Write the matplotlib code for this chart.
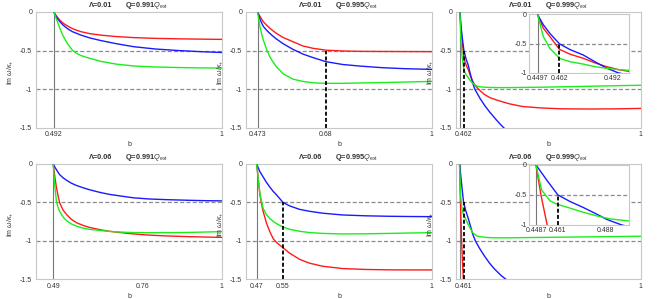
import matplotlib
matplotlib.use("Agg")
import matplotlib.pyplot as plt

plt.rcParams['font.family'] = ['Liberation Sans', 'DejaVu Sans']
plt.rcParams['mathtext.fontset'] = 'custom'
plt.rcParams['mathtext.rm'] = 'Liberation Sans'
plt.rcParams['mathtext.it'] = 'Liberation Sans:italic'
plt.rcParams['mathtext.bf'] = 'Liberation Sans:bold'

# ---------------- data ----------------
lambdas = ["0.01", "0.01", "0.01", "0.06", "0.06", "0.06"]
qfracs = ["0.991", "0.995", "0.999", "0.991", "0.995", "0.999"]
b_start = [0.492, 0.473, 0.4497, 0.49, 0.47, 0.4487]
b_cross = [None, 0.68, 0.462, None, 0.55, 0.461]
xtick_main = [[0.492, 1], [0.473, 0.68, 1], [0.462, 1],
              [0.49, 0.76, 1], [0.47, 0.55, 1], [0.461, 1]]
xticklabels_main = [["0.492", "1"], ["0.473", "0.68", "1"], ["0.462", "1"],
                    ["0.49", "0.76", "1"], ["0.47", "0.55", "1"], ["0.461", "1"]]

# panel 1
b1 = [0.492, 0.497, 0.503, 0.51, 0.52, 0.533, 0.548, 0.56, 0.574, 0.60, 0.634, 0.68, 0.734,
      0.80, 0.87, 0.94, 1.0]
red1 = [0, -0.035, -0.07, -0.105, -0.145, -0.18, -0.215, -0.235, -0.255, -0.28, -0.30, -0.318,
        -0.332, -0.342, -0.348, -0.352, -0.355]
blue1 = [0, -0.045, -0.085, -0.125, -0.17, -0.215, -0.255, -0.275, -0.30, -0.335, -0.37, -0.41,
         -0.45, -0.48, -0.50, -0.515, -0.525]
green1 = [0, -0.06, -0.13, -0.21, -0.31, -0.41, -0.495, -0.535, -0.565, -0.60, -0.64, -0.675,
          -0.70, -0.713, -0.72, -0.725, -0.727]

# panel 2
b2 = [0.473, 0.476, 0.48, 0.485, 0.49, 0.50, 0.51, 0.52, 0.53, 0.55, 0.58, 0.61, 0.64, 0.68,
      0.73, 0.78, 0.85, 0.92, 1.0]
red2 = [0, -0.025, -0.055, -0.09, -0.125, -0.17, -0.21, -0.245, -0.277, -0.33, -0.385, -0.44,
        -0.47, -0.495, -0.505, -0.51, -0.512, -0.513, -0.514]
blue2 = [0, -0.04, -0.09, -0.14, -0.185, -0.235, -0.277, -0.315, -0.35, -0.41, -0.484, -0.545,
         -0.59, -0.644, -0.68, -0.70, -0.722, -0.735, -0.744]
green2 = [0, -0.08, -0.19, -0.28, -0.36, -0.48, -0.58, -0.65, -0.71, -0.80, -0.87, -0.90,
          -0.918, -0.925, -0.925, -0.92, -0.915, -0.908, -0.90]

# panel 3
b3 = [0.4497, 0.4529, 0.4566, 0.462, 0.468, 0.4754, 0.482, 0.4886, 0.495, 0.5018, 0.511,
      0.525, 0.541, 0.561, 0.576, 0.60, 0.64, 0.70, 0.76, 0.85, 0.93, 1.0]
red3 = [0, -0.23, -0.375, -0.595, -0.68, -0.75, -0.83, -0.895, -0.945, -0.98, -1.02,
        -1.07, -1.11, -1.14, -1.16, -1.19, -1.225, -1.245, -1.255, -1.258, -1.255, -1.25]
green3 = [0, -0.375, -0.58, -0.75, -0.81, -0.85, -0.895, -0.924, -0.945, -0.96, -0.97,
          -0.975, -0.978, -0.98, -0.98, -0.98, -0.978, -0.975, -0.97, -0.962, -0.955, -0.95]
b3_blue = [0.4497, 0.4529, 0.4566, 0.462, 0.468, 0.4754, 0.482, 0.4886, 0.495, 0.5018, 0.511,
           0.525, 0.541, 0.561, 0.576, 0.60]
blue3 = [0, -0.17, -0.32, -0.50, -0.60, -0.693, -0.81, -0.92, -1.0, -1.05, -1.12,
         -1.21, -1.30, -1.40, -1.47, -1.57]

# panel 4
b4 = [0.49, 0.4925, 0.495, 0.50, 0.505, 0.51, 0.52, 0.53, 0.545, 0.561, 0.581, 0.60, 0.632,
      0.66, 0.70, 0.733, 0.78, 0.834, 0.90, 0.95, 1.0]
red4 = [0, -0.08, -0.17, -0.31, -0.42, -0.51, -0.60, -0.655, -0.72, -0.765, -0.80, -0.825,
        -0.855, -0.875, -0.895, -0.91, -0.925, -0.936, -0.945, -0.95, -0.955]
blue4 = [0, -0.02, -0.04, -0.075, -0.11, -0.14, -0.18, -0.21, -0.25, -0.28, -0.31, -0.335,
         -0.37, -0.395, -0.42, -0.44, -0.455, -0.464, -0.472, -0.477, -0.48]
green4 = [0, -0.15, -0.30, -0.49, -0.57, -0.62, -0.69, -0.735, -0.78, -0.81, -0.835, -0.85,
          -0.865, -0.877, -0.887, -0.892, -0.894, -0.893, -0.89, -0.885, -0.88]

# panel 5
b5 = [0.47, 0.4725, 0.475, 0.48, 0.485, 0.49, 0.50, 0.51, 0.52, 0.53, 0.55, 0.57, 0.60, 0.63,
      0.67, 0.73, 0.80, 0.87, 0.93, 1.0]
red5 = [0, -0.09, -0.20, -0.40, -0.52, -0.62, -0.77, -0.88, -0.97, -1.02, -1.09, -1.16,
        -1.24, -1.29, -1.33, -1.36, -1.372, -1.377, -1.378, -1.378]
blue5 = [0, -0.025, -0.05, -0.10, -0.135, -0.17, -0.24, -0.30, -0.355, -0.40, -0.50, -0.545,
         -0.59, -0.615, -0.64, -0.663, -0.674, -0.68, -0.683, -0.685]
green5 = [0, -0.09, -0.20, -0.38, -0.49, -0.58, -0.66, -0.71, -0.745, -0.775, -0.82, -0.85,
          -0.875, -0.892, -0.903, -0.91, -0.908, -0.903, -0.898, -0.893]

# panel 6
b6_red = [0.4487, 0.4515, 0.455, 0.458, 0.4605]
red6 = [0, -0.50, -1.0, -1.3, -1.52]
b6_blue = [0.4487, 0.4547, 0.461, 0.4678, 0.4753, 0.4828, 0.4886, 0.4968, 0.51, 0.525, 0.54,
           0.556, 0.575, 0.59, 0.605]
blue6 = [0, -0.25, -0.50, -0.61, -0.71, -0.82, -0.91, -1.0, -1.10, -1.20, -1.29,
         -1.37, -1.45, -1.50, -1.55]
b6_green = [0.4487, 0.4519, 0.4566, 0.461, 0.4678, 0.4753, 0.4828, 0.4903, 0.5011, 0.51,
            0.53, 0.55, 0.60, 0.70, 0.80, 0.90, 1.0]
green6 = [0, -0.42, -0.60, -0.66, -0.72, -0.79, -0.85, -0.90, -0.935, -0.945,
          -0.955, -0.96, -0.96, -0.955, -0.95, -0.945, -0.94]

# insets (panels 3 and 6)
inset_xticks = [[0.4497, 0.462, 0.492], [0.4487, 0.461, 0.488]]
inset_xticklabels = [["0.4497", "0.462", "0.492"], ["0.4487", "0.461", "0.488"]]

curves = [
    [(b1, red1), (b1, blue1), (b1, green1)],
    [(b2, red2), (b2, blue2), (b2, green2)],
    [(b3, red3), (b3_blue, blue3), (b3, green3)],
    [(b4, red4), (b4, blue4), (b4, green4)],
    [(b5, red5), (b5, blue5), (b5, green5)],
    [(b6_red, red6), (b6_blue, blue6), (b6_green, green6)],
]

# ---------------- style ----------------
RED, BLUE, GREEN = "#ff1a1a", "#1a1aff", "#1aee1a"
colors = [RED, BLUE, GREEN]
FRAME = "#c8c8c8"
TXT = "#333333"
FS = 5.0

W, H = 657, 299
col_px = [(35.7, 222.3), (245.7, 432.3), (455.7, 641.3)]
row_px = [(12.0, 127.7), (164.0, 279.3)]
inset_px = [((529, 629.3), (14, 73)), ((529, 629), (164.7, 225.3))]
inset_xlim = [(0.4448, 0.5014), (0.4448, 0.5010)]
inset_ylim = [(-1.005, 0.017), (-1.007, 0.003)]

fig = plt.figure(figsize=(W / 100, H / 100), dpi=100)


def style_axes(ax):
    for s in ax.spines.values():
        s.set_color(FRAME)
        s.set_linewidth(0.8)
    ax.tick_params(length=0, labelsize=FS, colors=TXT, pad=2.5)


def dashed_h(ax, y):
    ax.axhline(y, color="#8a8a8a", lw=0.9, ls=(0, (3.2, 1.8)), zorder=1)


for i in range(6):
    r, c = divmod(i, 3)
    x0, x1 = col_px[c]
    y0, y1 = row_px[r]
    ax = fig.add_axes([x0 / W, 1 - y1 / H, (x1 - x0) / W, (y1 - y0) / H])
    style_axes(ax)
    ax.set_xlim(0.437, 1.002)
    ax.set_ylim(-1.5, 0)
    dashed_h(ax, -0.5)
    dashed_h(ax, -1.0)
    ax.axvline(b_start[i], color="#777777", lw=0.8, zorder=1)
    for (bx, vy), col in zip(curves[i], colors):
        ax.plot(bx, vy, color=col, lw=1.0, zorder=3, clip_on=True)
    if b_cross[i] is not None:
        ax.plot([b_cross[i], b_cross[i]], [-1.5, -0.5], color="black", lw=1.3,
                ls=(0, (2.2, 1.2)), zorder=4)
    ax.set_yticks([0, -0.5, -1, -1.5])
    ax.set_yticklabels(["0", "-0.5", "-1", "-1.5"])
    ax.set_xticks(xtick_main[i])
    ax.set_xticklabels(xticklabels_main[i])
    ax.set_xlabel("b", fontsize=FS, color=TXT)
    ax.xaxis.set_label_coords(0.5, -0.118)
    ax.set_ylabel(r"Im $\omega/\kappa_{+}$", fontsize=FS, color=TXT)
    ax.yaxis.set_label_coords(-0.106, 0.48)
    ax.text(0.35, 1.06, "\u039b=" + lambdas[i], transform=ax.transAxes, ha="center",
            va="center", fontsize=FS + 0.3, fontweight="bold", color=TXT)
    ax.text(0.595, 1.06, "Q=" + qfracs[i] + r"$Q_{\mathrm{ext}}$", transform=ax.transAxes,
            ha="center", va="center", fontsize=FS + 0.3, fontweight="bold", color=TXT)

    if c == 2:
        k = r
        (ix0, ix1), (iy0, iy1) = inset_px[k]
        ins = fig.add_axes([ix0 / W, 1 - iy1 / H, (ix1 - ix0) / W, (iy1 - iy0) / H])
        ins.set_facecolor("white")
        ins.set_zorder(5)
        style_axes(ins)
        ins.set_xlim(*inset_xlim[k])
        ins.set_ylim(*inset_ylim[k])
        dashed_h(ins, -0.5)
        ins.axvline(b_start[i], color="#777777", lw=0.8, zorder=1)
        for (bx, vy), col in zip(curves[i], colors):
            ins.plot(bx, vy, color=col, lw=1.0, zorder=3)
        ins.plot([b_cross[i], b_cross[i]], [-1.0, -0.5], color="black", lw=1.3,
                 ls=(0, (2.2, 1.2)), zorder=4)
        ins.set_yticks([0, -0.5, -1])
        ins.set_yticklabels(["0", "-0.5", "-1"])
        ins.set_xticks(inset_xticks[k])
        ins.set_xticklabels(inset_xticklabels[k])
        ins.tick_params(pad=1.5)

fig.savefig("out.png", dpi=100, facecolor="white")
